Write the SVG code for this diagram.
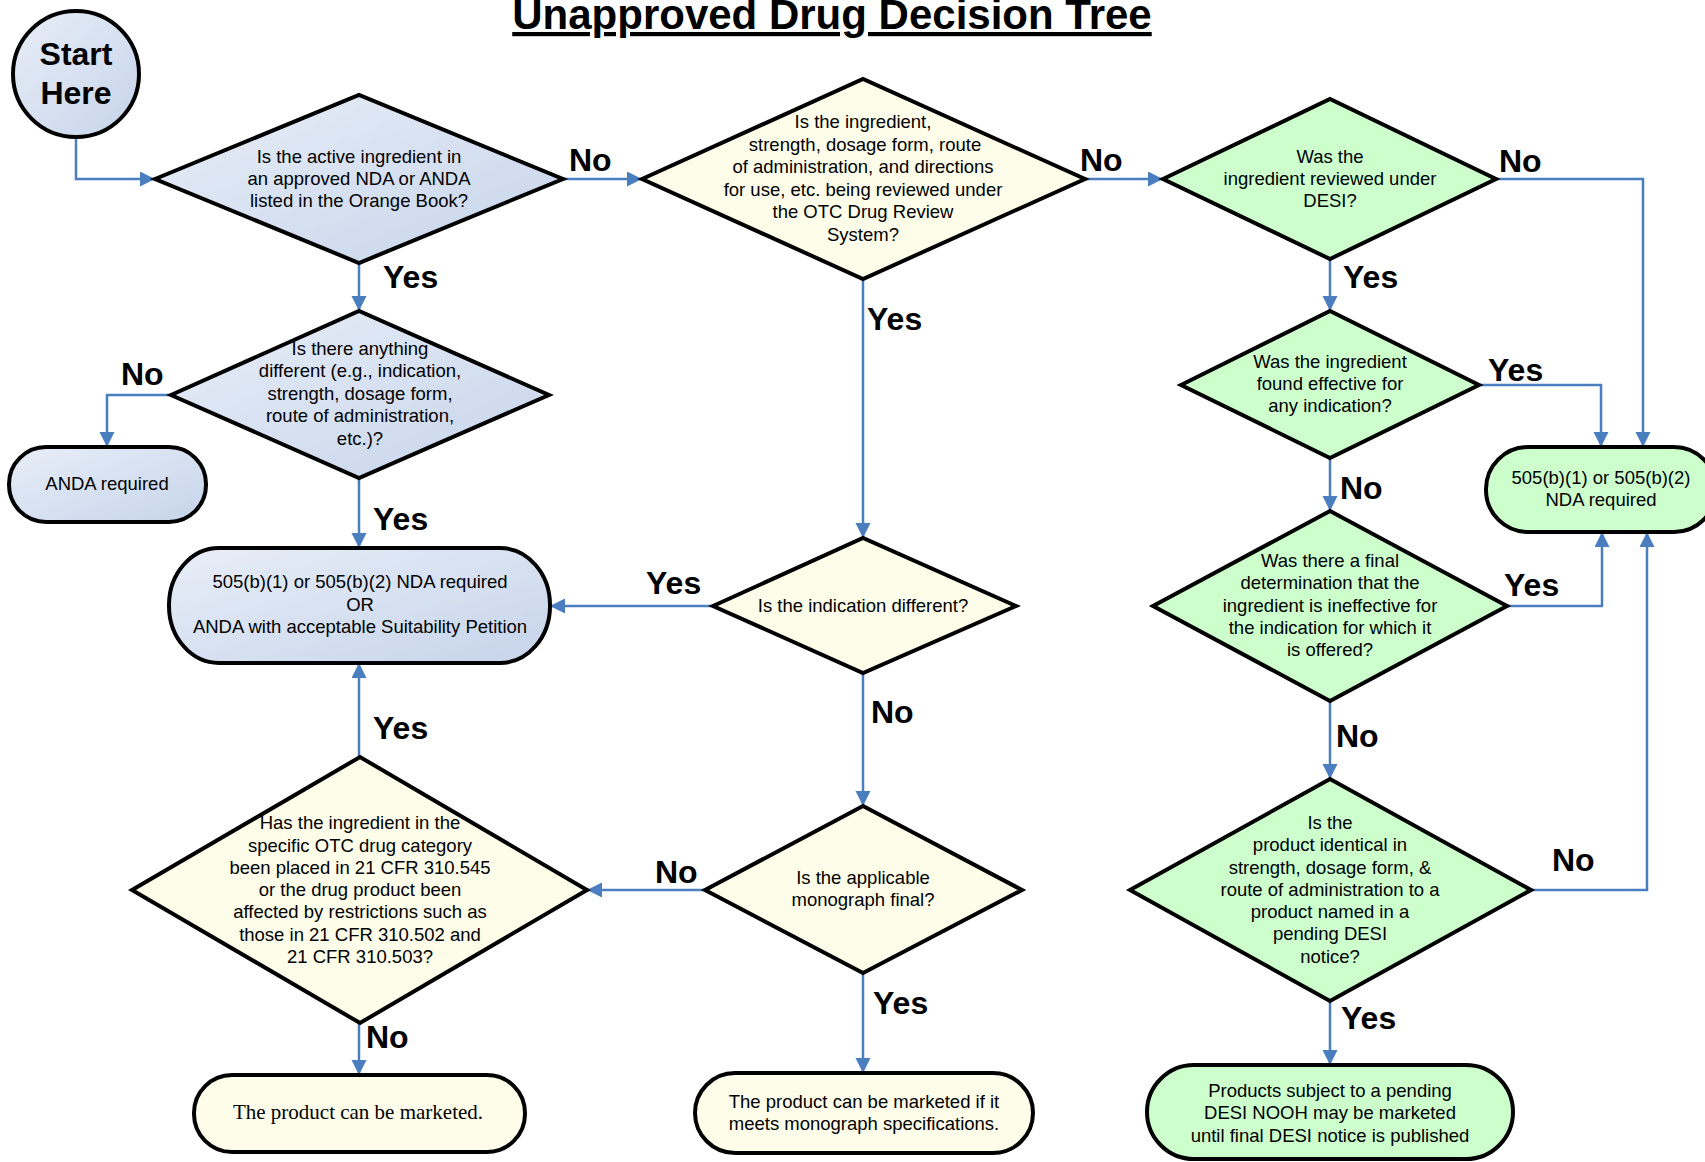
<svg xmlns="http://www.w3.org/2000/svg" width="1705" height="1162" viewBox="0 0 1705 1162">
<style>
.shape{stroke:#000;stroke-width:4;stroke-linejoin:miter}
.blue{fill:url(#gblue)}
.yellow{fill:#fdfde9}
.green{fill:#ccffcc}
.t{font-family:"Liberation Sans",Arial,sans-serif;font-size:18.5px;fill:#000;text-anchor:middle}
.ts{font-family:"Liberation Serif","Times New Roman",serif;font-size:21px;fill:#000;text-anchor:middle}
.lbl{font-family:"Liberation Sans",Arial,sans-serif;font-size:32px;font-weight:bold;fill:#000}
.title{font-family:"Liberation Sans",Arial,sans-serif;font-size:42px;font-weight:bold;fill:#000;text-anchor:middle;text-decoration:underline}
.conn path{fill:none;stroke:#4a7ebf;stroke-width:2.5;marker-end:url(#arr)}
</style>
<defs>
<linearGradient id="gblue" x1="0" y1="0" x2="1" y2="1">
<stop offset="0" stop-color="#e8eef8"/>
<stop offset="1" stop-color="#c6d4ea"/>
</linearGradient>
<marker id="arr" markerUnits="userSpaceOnUse" markerWidth="16" markerHeight="16" refX="15" refY="7.5" orient="auto">
<path d="M0,0 L15,7.5 L0,15 z" fill="#4a7ebf"/>
</marker>
</defs>
<rect width="1705" height="1162" fill="#fff"/>
<text class="title" x="832" y="29">Unapproved Drug Decision Tree</text>

<g class="conn" id="connectors">
<path d="M76,138 V179 H155"/>
<path d="M563,179 H642"/>
<path d="M1085,179 H1163"/>
<path d="M1496,179 H1643 V447"/>
<path d="M1330,259 V311"/>
<path d="M1479,385 H1601 V447"/>
<path d="M1330,458 V511"/>
<path d="M1507,606 H1602 V532"/>
<path d="M1330,701 V779"/>
<path d="M1531,890 H1647 V532"/>
<path d="M1330,1001 V1065"/>
<path d="M359,263 V311"/>
<path d="M171,395 H107 V447"/>
<path d="M359,478 V548"/>
<path d="M863,279 V538"/>
<path d="M713,606 H550"/>
<path d="M863,673 V806"/>
<path d="M705,890 H587"/>
<path d="M863,973 V1073"/>
<path d="M359,757 V663"/>
<path d="M359,1023 V1075"/>
</g>

<g id="labels">
<text class="lbl" x="569" y="171">No</text>
<text class="lbl" x="1080" y="171">No</text>
<text class="lbl" x="1499" y="172">No</text>
<text class="lbl" x="1343" y="288">Yes</text>
<text class="lbl" x="1488" y="381">Yes</text>
<text class="lbl" x="1340" y="499">No</text>
<text class="lbl" x="1504" y="596">Yes</text>
<text class="lbl" x="1336" y="747">No</text>
<text class="lbl" x="1552" y="871">No</text>
<text class="lbl" x="1341" y="1029">Yes</text>
<text class="lbl" x="383" y="288">Yes</text>
<text class="lbl" x="121" y="385">No</text>
<text class="lbl" x="373" y="530">Yes</text>
<text class="lbl" x="867" y="330">Yes</text>
<text class="lbl" x="646" y="594">Yes</text>
<text class="lbl" x="871" y="723">No</text>
<text class="lbl" x="655" y="883">No</text>
<text class="lbl" x="873" y="1014">Yes</text>
<text class="lbl" x="373" y="739">Yes</text>
<text class="lbl" x="366" y="1048">No</text>
</g>

<g id="start">
<ellipse class="shape blue" cx="76" cy="74" rx="63" ry="63"/>
<text class="lbl" x="76" y="65" text-anchor="middle">Start</text>
<text class="lbl" x="76" y="104" text-anchor="middle">Here</text>
</g>

<g id="d1">
<polygon class="shape blue" points="155,179 359,95 563,179 359,263"/>
<text class="t" x="359" y="163">Is the active ingredient in</text>
<text class="t" x="359" y="185">an approved NDA or ANDA</text>
<text class="t" x="359" y="207">listed in the Orange Book?</text>
</g>

<g id="d2">
<polygon class="shape yellow" points="642,179 863,79 1085,179 863,279"/>
<text class="t" x="863" y="128">Is the ingredient,</text>
<text class="t" x="865" y="151">strength, dosage form, route</text>
<text class="t" x="863" y="173">of administration, and directions</text>
<text class="t" x="863" y="196">for use, etc. being reviewed under</text>
<text class="t" x="863" y="218">the OTC Drug Review</text>
<text class="t" x="863" y="241">System?</text>
</g>

<g id="d3">
<polygon class="shape green" points="1163,179 1330,99 1496,179 1330,259"/>
<text class="t" x="1330" y="163">Was the</text>
<text class="t" x="1330" y="185">ingredient reviewed under</text>
<text class="t" x="1330" y="207">DESI?</text>
</g>

<g id="d4">
<polygon class="shape green" points="1181,385 1330,311 1479,385 1330,458"/>
<text class="t" x="1330" y="368">Was the ingredient</text>
<text class="t" x="1330" y="390">found effective for</text>
<text class="t" x="1330" y="412">any indication?</text>
</g>

<g id="nda-green">
<rect class="shape green" x="1486" y="447" width="230" height="85" rx="42" ry="42"/>
<text class="t" x="1601" y="484">505(b)(1) or 505(b)(2)</text>
<text class="t" x="1601" y="506">NDA required</text>
</g>

<g id="d5">
<polygon class="shape green" points="1153,606 1330,511 1507,606 1330,701"/>
<text class="t" x="1330" y="567">Was there a final</text>
<text class="t" x="1330" y="589">determination that the</text>
<text class="t" x="1330" y="612">ingredient is ineffective for</text>
<text class="t" x="1330" y="634">the indication for which it</text>
<text class="t" x="1330" y="656">is offered?</text>
</g>

<g id="d6">
<polygon class="shape green" points="1130,890 1330,779 1531,890 1330,1001"/>
<text class="t" x="1330" y="829">Is the</text>
<text class="t" x="1330" y="851">product identical in</text>
<text class="t" x="1330" y="874">strength, dosage form, &amp;</text>
<text class="t" x="1330" y="896">route of administration to a</text>
<text class="t" x="1330" y="918">product named in a</text>
<text class="t" x="1330" y="940">pending DESI</text>
<text class="t" x="1330" y="963">notice?</text>
</g>

<g id="desi-box">
<rect class="shape green" x="1147" y="1065" width="366" height="94" rx="47" ry="47"/>
<text class="t" x="1330" y="1097">Products subject to a pending</text>
<text class="t" x="1330" y="1119">DESI NOOH may be marketed</text>
<text class="t" x="1330" y="1142">until final DESI notice is published</text>
</g>

<g id="d7">
<polygon class="shape blue" points="171,395 359,311 549,395 359,478"/>
<text class="t" x="360" y="355">Is there anything</text>
<text class="t" x="360" y="377">different (e.g., indication,</text>
<text class="t" x="360" y="400">strength, dosage form,</text>
<text class="t" x="360" y="422">route of administration,</text>
<text class="t" x="360" y="445">etc.)?</text>
</g>

<g id="anda">
<rect class="shape blue" x="9" y="447" width="197" height="75" rx="37" ry="37"/>
<text class="t" x="107" y="490">ANDA required</text>
</g>

<g id="nda-blue">
<rect class="shape blue" x="169" y="548" width="381" height="115" rx="50" ry="57"/>
<text class="t" x="360" y="588">505(b)(1) or 505(b)(2) NDA required</text>
<text class="t" x="360" y="611">OR</text>
<text class="t" x="360" y="633">ANDA with acceptable Suitability Petition</text>
</g>

<g id="d8">
<polygon class="shape yellow" points="713,606 863,538 1016,606 863,673"/>
<text class="t" x="863" y="612">Is the indication different?</text>
</g>

<g id="d9">
<polygon class="shape yellow" points="705,890 863,806 1022,890 863,973"/>
<text class="t" x="863" y="884">Is the applicable</text>
<text class="t" x="863" y="906">monograph final?</text>
</g>

<g id="d10">
<polygon class="shape yellow" points="132,890 360,757 587,890 360,1023"/>
<text class="t" x="360" y="829">Has the ingredient in the</text>
<text class="t" x="360" y="852">specific OTC drug category</text>
<text class="t" x="360" y="874">been placed in 21 CFR 310.545</text>
<text class="t" x="360" y="896">or the drug product been</text>
<text class="t" x="360" y="918">affected by restrictions such as</text>
<text class="t" x="360" y="941">those in 21 CFR 310.502 and</text>
<text class="t" x="360" y="963">21 CFR 310.503?</text>
</g>

<g id="marketed">
<rect class="shape yellow" x="194" y="1075" width="331" height="77" rx="38" ry="38"/>
<text class="ts" x="358" y="1119">The product can be marketed.</text>
</g>

<g id="marketed-if">
<rect class="shape yellow" x="695" y="1073" width="338" height="80" rx="40" ry="40"/>
<text class="t" x="864" y="1108">The product can be marketed if it</text>
<text class="t" x="864" y="1130">meets monograph specifications.</text>
</g>
</svg>
